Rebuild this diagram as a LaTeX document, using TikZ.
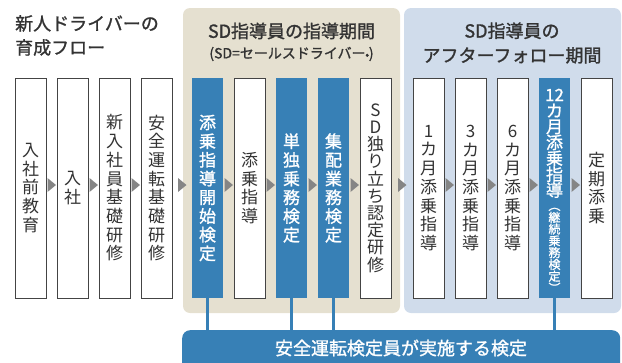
\documentclass[tikz,border=0pt]{standalone}
\usepackage{fontspec}
\setmainfont{Noto Sans CJK JP}
\newfontfamily\jpmed[FakeBold=1.2]{Noto Sans CJK JP}
\usetikzlibrary{calc}
\definecolor{tanbg}{HTML}{E5E0D0}
\definecolor{palebg}{HTML}{D0DCEB}
\definecolor{sdblue}{HTML}{3780B6}
\definecolor{ink}{HTML}{333333}
\definecolor{arrowc}{HTML}{858585}
\definecolor{edgec}{HTML}{444444}
\begin{document}
\begin{tikzpicture}[x=1pt,y=-1pt,
  wbox/.style={draw=edgec, line width=0.8pt, fill=white, minimum width=31pt,
    minimum height=220pt, inner sep=0pt, align=center, text=ink,
    font=\fontsize{17}{18.7}\selectfont},
  bbox/.style={wbox, draw=none, fill=sdblue, text=white,
    font=\jpmed\fontsize{17}{18.7}\selectfont},
  panel/.style={rounded corners=7pt},
  title/.style={text=ink, inner sep=0pt, font=\jpmed\fontsize{18}{24}\selectfont},
  link/.style={draw=sdblue, line width=2.5pt},
  tri/.style={fill=arrowc}]
\clip (0,0) rectangle (622,362);
\useasboundingbox (0,0) rectangle (622,362);
% panels
\fill[tanbg, panel] (183,8) rectangle (400,313);
\fill[palebg, panel] (404,8) rectangle (621,313);
% titles
\node[title, anchor=north west, align=left] (t1) at (15,15) {新人ドライバーの\\育成フロー};
\node[title] (t2) at (291.5,31) {SD指導員の指導期間};
\node[title, font=\jpmed\fontsize{14}{16}\selectfont] (t3) at (291.5,54)
  {(SD=セールスドライバー\raisebox{-1pt}{\fontsize{7}{7}\selectfont ®})};
\node[title, align=center, font=\jpmed\fontsize{18}{24.5}\selectfont] (t4) at (512,43)
  {SD指導員の\\アフターフォロー期間};
% boxes
\node[wbox] (b1) at (30.5,188) {入\\社\\前\\教\\育};
\node[wbox] (b2) at (72.5,188) {入\\社};
\node[wbox] (b3) at (114.5,188) {新\\入\\社\\員\\基\\礎\\研\\修};
\node[wbox] (b4) at (156.5,188) {安\\全\\運\\転\\基\\礎\\研\\修};
\node[bbox] (b5) at (207.5,188) {添\\乗\\指\\導\\開\\始\\検\\定};
\node[wbox] (b6) at (249.5,188) {添\\乗\\指\\導};
\node[bbox] (b7) at (291.5,188) {単\\独\\乗\\務\\検\\定};
\node[bbox] (b8) at (333.5,188) {集\\配\\業\\務\\検\\定};
\node[wbox, font=\fontsize{17}{17.2}\selectfont] (b9) at (375.5,188) {S\\D\\独\\り\\立\\ち\\認\\定\\研\\修};
\node[wbox] (b10) at (428.5,188) {1\\カ\\月\\添\\乗\\指\\導};
\node[wbox] (b11) at (470.5,188) {3\\カ\\月\\添\\乗\\指\\導};
\node[wbox] (b12) at (512.5,188) {6\\カ\\月\\添\\乗\\指\\導};
\node[bbox] (b13) at (554.5,188) {};
\node[wbox] (b14) at (596.5,188) {定\\期\\添\\乗};
\node[anchor=north, inner sep=0pt, align=center, text=white,
  font=\jpmed\fontsize{17}{15.9}\selectfont] (b13a) at ($(b13.north)+(0,11)$)
  {12\\カ\\月\\添\\乗\\指\\導};
\node[anchor=north, inner sep=0pt, align=center, text=white,
  font=\jpmed\fontsize{12}{11.8}\selectfont] (b13b) at ($(b13.north)+(0,130)$)
  {︵\\継\\続\\乗\\務\\検\\定\\︶};
% arrows between boxes
\foreach \a/\b in {b1/b2,b2/b3,b3/b4,b4/b5,b5/b6,b6/b7,b7/b8,b8/b9,b9/b10,b10/b11,b11/b12,b12/b13,b13/b14}{
  \coordinate (m) at ($(\a.east)!0.5!(\b.west)+(0,-3)$);
  \fill[tri] ($(m)+(-4,-7)$) -- ($(m)+(4.5,0)$) -- ($(m)+(-4,7)$) -- cycle;
}
% bottom bar
\node[fill=sdblue, rounded corners=8pt, minimum width=438pt, minimum height=50pt,
  inner sep=0pt, anchor=north west] (bar) at (182,330) {};
\node[text=white, inner sep=0pt, font=\jpmed\fontsize{18}{20}\selectfont] (bart) at (401,348)
  {安全運転検定員が実施する検定};
% links
\foreach \n in {b5,b7,b8,b13}{
  \draw[link] (\n.south) -- (\n.south |- bar.north);
}
\end{tikzpicture}
\end{document}
